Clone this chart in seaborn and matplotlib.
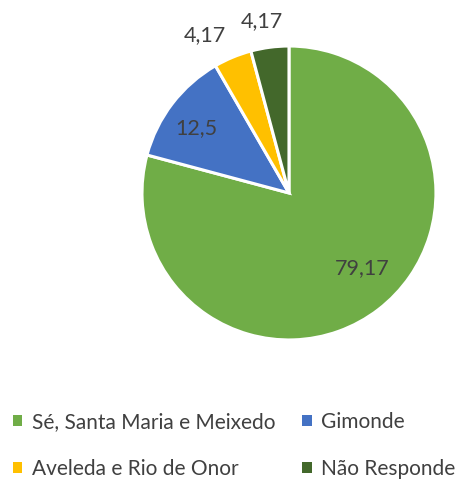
import matplotlib
matplotlib.use("Agg")
import matplotlib.pyplot as plt
import seaborn as sns
import numpy as np

# data
categories = ["Sé, Santa Maria e Meixedo", "Gimonde", "Aveleda e Rio de Onor", "Não Responde"]
values = [79.17, 12.5, 4.17, 4.17]
value_labels = ["79,17", "12,5", "4,17", "4,17"]
colors = ["#70AD47", "#4472C4", "#FFC000", "#43682B"]

sns.set_theme(style="white")
plt.rcParams["font.family"] = ["Lato", "DejaVu Sans"]
text_color = "#404040"

fig = plt.figure(figsize=(4.6, 4.8), dpi=100)
ax = fig.add_axes([0.3087, 0.2917, 0.639, 0.6125])

wedges, _ = ax.pie(values, colors=colors, startangle=90, counterclock=False,
                   radius=1.0, wedgeprops=dict(edgecolor="white", linewidth=2.2))
ax.set_xlim(-1, 1)
ax.set_ylim(-1, 1)
ax.axis("off")

# data labels: radial distance and small angle nudge from the wedge middle
label_dist = [0.716, 0.772, 1.217, 1.184]
label_nudge = [7, 2.6, 5.5, 1.4]
for w, lab, d, n in zip(wedges, value_labels, label_dist, label_nudge):
    ang = np.deg2rad((w.theta1 + w.theta2) / 2 + n)
    ax.text(d * np.cos(ang), d * np.sin(ang), lab, ha="center", va="center",
            fontsize=15.5, color=text_color, clip_on=False)

# legend, row-wise order
order = [0, 2, 1, 3]
leg = fig.legend([wedges[i] for i in order], [categories[i] for i in order],
                 ncol=2, loc="upper left", bbox_to_anchor=(0.028, 0.142),
                 frameon=False, fontsize=15, handlelength=0.45, handleheight=0.45,
                 handletextpad=0.45, columnspacing=1.3, labelspacing=1.3,
                 borderaxespad=0, borderpad=0)
for t in leg.get_texts():
    t.set_color(text_color)
for h in leg.legend_handles:
    h.set_edgecolor("none")

fig.savefig("out.png", dpi=100)
